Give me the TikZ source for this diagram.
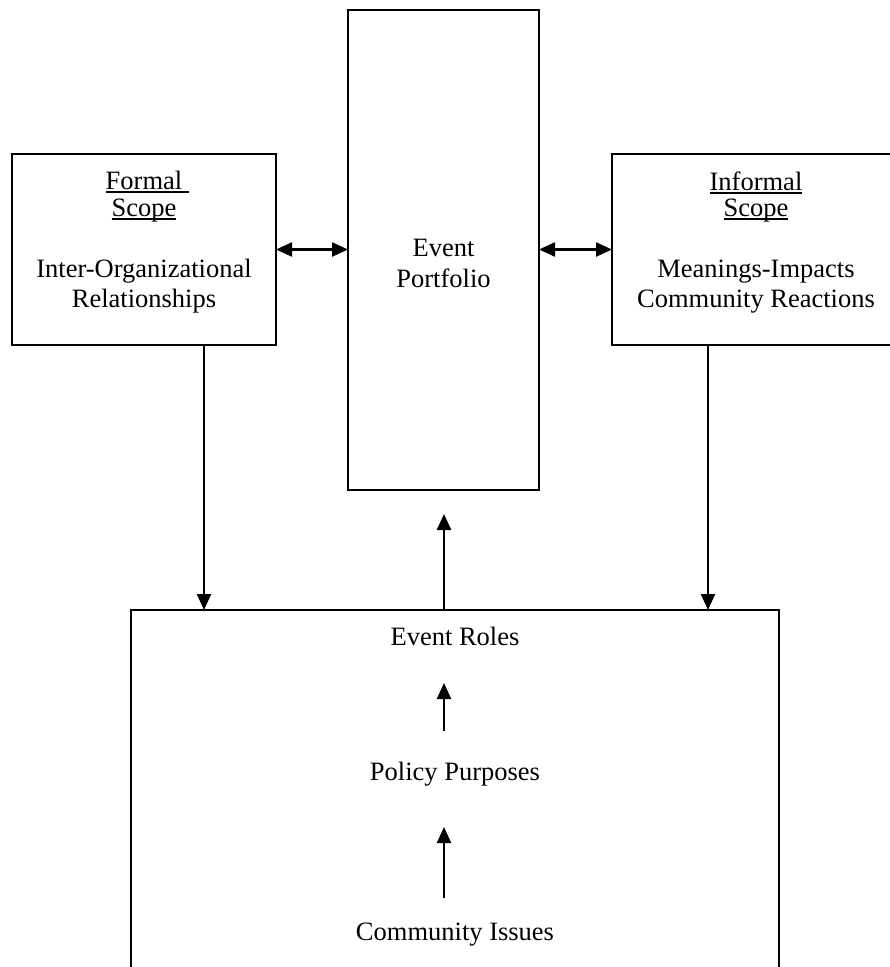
\documentclass[tikz,border=0pt]{standalone}
\usepackage{fontspec}
\setmainfont{Liberation Serif}
\usetikzlibrary{arrows.meta,calc}
% underline at a fixed depth below the baseline; optional argument lengthens it to the right
\newcommand\wordul[2][0pt]{\setbox0=\hbox{#2}\rlap{\rule[-3.9pt]{\dimexpr\wd0+#1\relax}{1.8pt}}\box0}
\begin{document}
\begin{tikzpicture}[x=1pt,y=-1pt,
  box/.style={draw, line width=2.6pt, rectangle, inner sep=0pt, outer sep=0pt},
  lbl/.style={anchor=base, inner sep=0pt, font=\fontsize{26.5}{30}\selectfont},
  tip/.style={},
  link/.style={line width=2.4pt, -{Triangle[length=16pt,width=14pt]}},
  dbl/.style={line width=2.4pt, {Triangle[length=16pt,width=14pt]}-{Triangle[length=16pt,width=14pt]}}]
\useasboundingbox (0,0) rectangle (890,967);
\clip (0,0) rectangle (890,967);

% boxes
\node[box, minimum width=264pt, minimum height=191pt] (formal) at (144,249.5) {};
\node[box, minimum width=191pt, minimum height=480pt] (portfolio) at (443.5,250) {};
\node[box, minimum width=288pt, minimum height=191pt] (informal) at (756,249.5) {};
\node[box, minimum width=648pt, minimum height=400pt] (frame) at (455,810) {};

% texts of the left box
\node[lbl] (t1) at (144,189) {\wordul[6.6pt]{Formal}};
\node[lbl] (t2) at (144,216) {\wordul{Scope}};
\node[lbl] (t3) at (144,277) {Inter-Organizational};
\node[lbl] (t4) at (144,307) {Relationships};

% texts of the centre box
\node[lbl] (p1) at (443.5,256) {Event};
\node[lbl] (p2) at (443.5,287) {Portfolio};

% texts of the right box
\node[lbl] (i1) at (756,190) {\wordul{Informal}};
\node[lbl] (i2) at (756,216) {\wordul{Scope}};
\node[lbl] (i3) at (756,277) {Meanings-Impacts};
\node[lbl] (i4) at (756,307) {Community Reactions};

% texts of the bottom box
\node[lbl] (roles) at (455,645) {Event Roles};
\node[lbl] (policy) at (455,780) {Policy Purposes};
\node[lbl] (issues) at (455,940) {Community Issues};

% arrow ends
\coordinate (portin) at (444,514);
\coordinate (roleA) at (444,683);
\coordinate (polA) at (444,731);
\coordinate (polB) at (444,827);
\coordinate (issB) at (444,898);

% connectors
\draw[dbl] (formal.east) -- (formal.east -| portfolio.west);
\draw[dbl] (informal.west -| portfolio.east) -- (informal.west);
\draw[link] ([xshift=60pt]formal.south) -- ([xshift=60pt]formal.south |- frame.north);
\draw[link] ([xshift=-48pt]informal.south) -- ([xshift=-48pt]informal.south |- frame.north);
\draw[link] (portin |- frame.north) -- (portin);
\draw[link] (polA) -- (roleA);
\draw[link] (issB) -- (polB);
\end{tikzpicture}
\end{document}
